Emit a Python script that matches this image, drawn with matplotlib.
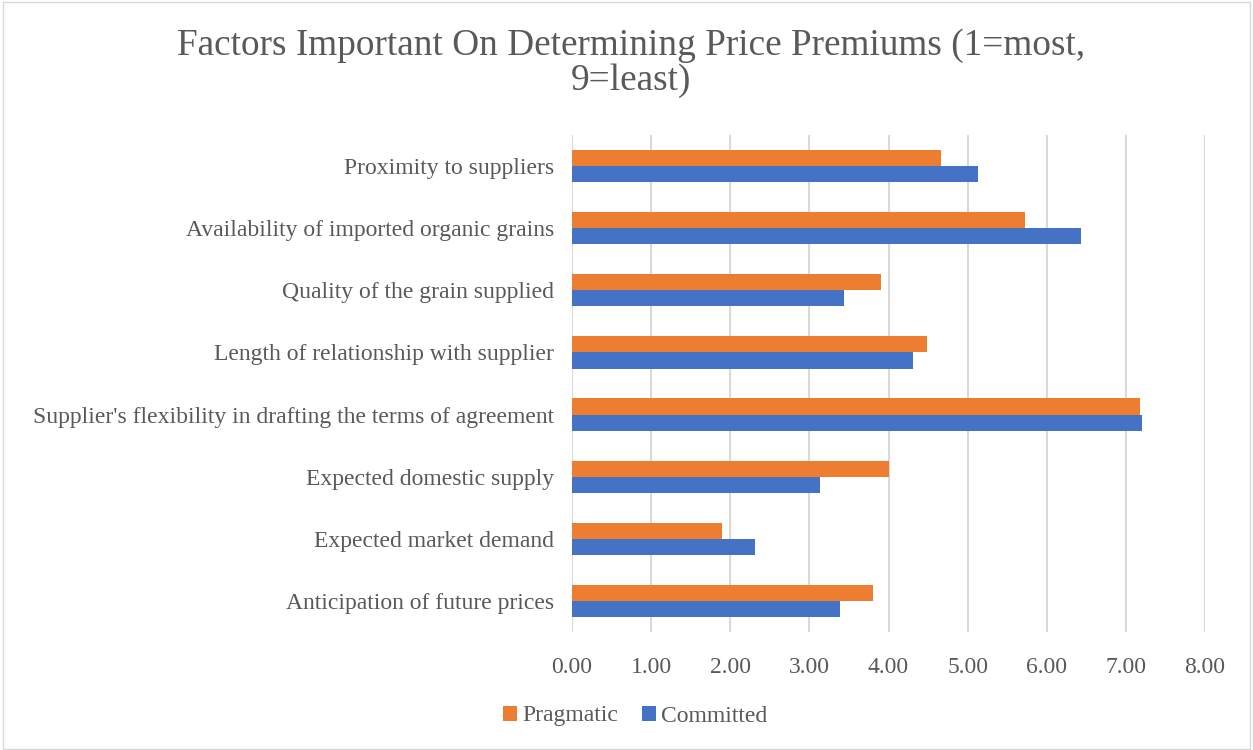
import matplotlib.pyplot as plt
import numpy as np

categories = [
    "Anticipation of future prices",
    "Expected market demand",
    "Expected domestic supply",
    "Supplier's flexibility in drafting the terms of agreement",
    "Length of relationship with supplier",
    "Quality of the grain supplied",
    "Availability of imported organic grains",
    "Proximity to suppliers",
]
pragmatic = [3.81, 1.90, 4.00, 7.18, 4.49, 3.91, 5.72, 4.66]
committed = [3.39, 2.31, 3.14, 7.21, 4.31, 3.44, 6.43, 5.13]
xticks = np.arange(0, 9, 1)

plt.rcParams["font.family"] = ["Liberation Serif", "DejaVu Serif"]
grey = "#595959"

fig = plt.figure(figsize=(12.53, 7.5), dpi=100)
ax = fig.add_axes([572 / 1253, 1 - 632 / 750, (1205 - 572) / 1253, (632 - 135) / 750])

y = np.arange(len(categories))
h = 0.26
ax.barh(y + h / 2, pragmatic, height=h, color="#ed7d31", label="Pragmatic", zorder=3)
ax.barh(y - h / 2, committed, height=h, color="#4472c4", label="Committed", zorder=3)

ax.set_xlim(0, 8)
ax.set_ylim(-0.5, len(categories) - 0.5)
ax.set_xticks(xticks)
ax.set_xticklabels([f"{v:.2f}" for v in xticks], fontsize=17, color=grey)
ax.set_yticks(y)
ax.set_yticklabels(categories, fontsize=17, color=grey)
ax.tick_params(length=0, pad=13, axis="y")
ax.tick_params(length=0, pad=18, axis="x")
ax.grid(axis="x", color="#d9d9d9", linewidth=1.5, zorder=0)
for s in ax.spines.values():
    s.set_visible(False)

fig.text(631 / 1253, 1 - 63 / 750, "Factors Important On Determining Price Premiums (1=most,\n9=least)",
         ha="center", va="center", fontsize=26.8, color=grey, linespacing=1.0)

fig.legend(loc="center", bbox_to_anchor=(635 / 1253, 1 - 716 / 750), ncol=2, frameon=False,
           fontsize=17, labelcolor=grey, handlelength=0.6, handleheight=0.6,
           handletextpad=0.2, columnspacing=1.0)

fig.patches.append(plt.Rectangle((0.002, 0.002), 0.996, 0.996, transform=fig.transFigure,
                                 fill=False, edgecolor="#d9d9d9", linewidth=1))

fig.savefig("out.png", dpi=100)
